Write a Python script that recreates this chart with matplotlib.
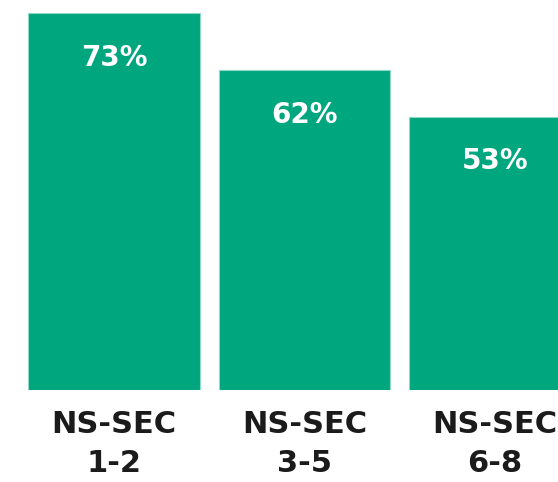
import matplotlib
matplotlib.use("Agg")
import matplotlib.pyplot as plt

# Share of pupils by socio-economic class
categories = ["NS-SEC\n1-2", "NS-SEC\n3-5", "NS-SEC\n6-8"]
values = [73, 62, 53]
value_labels = ["73%", "62%", "53%"]

GREEN = "#00a67e"
DARK = "#1b1b1b"

fig = plt.figure(figsize=(5.58, 4.82), dpi=100)
ax = fig.add_axes([0, 92 / 482, 1, 390 / 482])

x = range(len(categories))
ax.bar(x, values, width=0.9, color=GREEN, edgecolor="#8fd9c6", linewidth=0.8)

ax.set_xlim(-0.598, 2.331)
ax.set_ylim(0, 75.6)
ax.axis("off")

for i, (v, lab) in enumerate(zip(values, value_labels)):
    ax.text(i, v - 8.7, lab, ha="center", va="center", color="white",
            fontsize=20, fontweight="bold", fontfamily="DejaVu Sans")

for i, cat in enumerate(categories):
    ax.text(i, -3.9, cat, ha="center", va="top", color=DARK,
            fontsize=22, fontweight="bold", fontfamily="DejaVu Sans",
            linespacing=1.42, clip_on=False)

fig.savefig("out.png", dpi=100, facecolor="white")
